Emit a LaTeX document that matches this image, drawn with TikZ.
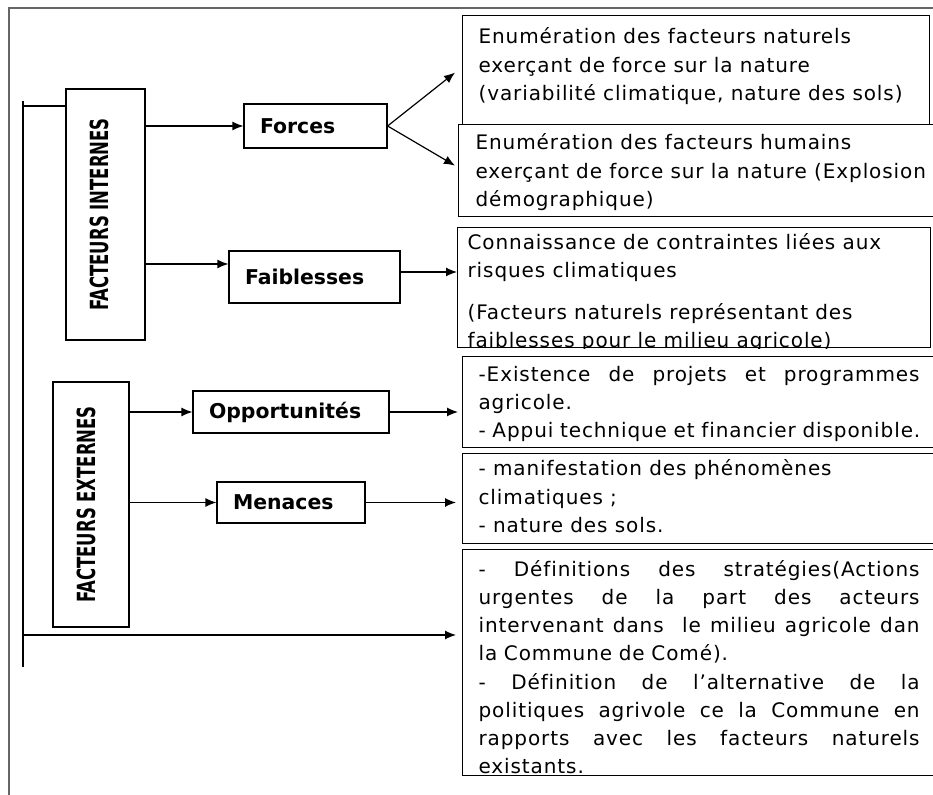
\documentclass[tikz,border=0pt]{standalone}
\usepackage{fontspec}
\usepackage{graphicx}
\setmainfont{DejaVu Sans}
\newfontfamily\bodyfont[LetterSpace=4.5,Ligatures=NoCommon]{DejaVu Sans}
\usetikzlibrary{arrows.meta}
\newcommand\jl[1]{\makebox[220.5pt][s]{\spaceskip=0.33em plus 1fil\relax #1}}
\begin{document}
\begin{tikzpicture}[x=0.5pt,y=-0.5pt,line width=0.6pt,
        >={Latex[length=5.5pt,width=4.5pt]},
        box/.style={draw,fill=white,anchor=north west,inner sep=0pt},
        desc/.style={anchor=north west,inner sep=0pt,align=left,
            font=\bodyfont\fontsize{10}{14.1}\selectfont},
        lbl/.style={draw,fill=white,inner xsep=8pt,inner ysep=0pt,align=left,
            font=\bfseries\fontsize{10.2}{12}\selectfont},
        cat/.style={draw,fill=white,inner sep=0pt},
        catlbl/.style={rotate=90,inner sep=0pt,
            font=\bfseries\fontsize{12.5}{14}\selectfont}]
    \useasboundingbox (0,0) rectangle (933,795);
    \clip (0,0) rectangle (933,795);
    \draw[black!60,line width=0.9pt] (9,8) rectangle (960,820);

    \coordinate (spineTop) at (23,101);
    \coordinate (spineEnd) at (23,667);
    \coordinate (tick) at (23,106);
    \coordinate (branch) at (23,635);
    \draw (spineTop) -- (spineEnd);

    \node[cat,minimum width=39.5pt,minimum height=125.5pt] (internes) at (105.5,214.5) {};
    \node[catlbl] (internesTxt) at ([xshift=-3pt]internes.center) {\scalebox{0.66}[1]{FACTEURS INTERNES}};
    \node[cat,minimum width=38pt,minimum height=122.5pt] (externes) at (91,504.5) {};
    \node[catlbl] (externesTxt) at ([xshift=-2.5pt]externes.center) {\scalebox{0.66}[1]{FACTEURS EXTERNES}};

    \node[lbl,text width=55.5pt,minimum height=22pt] (forces) at (315.5,126) {Forces};
    \node[lbl,text width=69.5pt,minimum height=26pt] (faibl) at (314.5,277) {Faiblesses};
    \node[lbl,text width=82pt,minimum height=21pt] (opport) at (291,412) {Opportunités};
    \node[lbl,text width=58pt,minimum height=20.5pt] (menaces) at (291,502.5) {Menaces};

    \node[box,minimum width=233.5pt,minimum height=54.5pt] (natur) at (462,15) {};
    \node[box,minimum width=245pt,minimum height=46pt] (humain) at (458,124) {};
    \node[box,minimum width=236.5pt,minimum height=60pt] (contr) at (457,227) {};
    \node[box,minimum width=245pt,minimum height=45.5pt] (projets) at (462,356) {};
    \node[box,minimum width=245pt,minimum height=45pt] (climat) at (462,453) {};
    \node[box,minimum width=245pt,minimum height=113pt] (strat) at (462,549) {};

    \node[desc] (naturTxt) at (478,23.5) {\strut Enumération des facteurs naturels\\
        exerçant de force sur la nature\\
        (variabilité climatique, nature des sols)};
    \node[desc] (humainTxt) at (475,129.5) {\strut Enumération des facteurs humains\\
        exerçant de force sur la nature (Explosion\\
        démographique)};
    \begin{scope}
        \clip (contr.south west) rectangle (contr.north east);
        \node[desc] (contrTxt) at (467,229) {\strut Connaissance de contraintes liées aux\\
            risques climatiques\\[7pt]
            (Facteurs naturels représentant des\\
            faiblesses pour le milieu agricole)};
    \end{scope}
    \node[desc,text width=220.5pt] (projetsTxt) at (478,361) {\strut\jl{-Existence de projets et programmes}\\
        agricole.\\
        - Appui technique et financier disponible.};
    \node[desc] (climatTxt) at (478,455.5) {\strut - manifestation des phénomènes\\
        climatiques ;\\
        - nature des sols.};
    \begin{scope}
        \clip (strat.south west) rectangle (strat.north east);
        \node[desc,text width=220.5pt] (stratTxt) at (478,556) {\strut\jl{- Définitions des stratégies(Actions}\\
            \jl{urgentes de la part des acteurs}\\
            \jl{intervenant dans\ \ le milieu agricole dan}\\
            la Commune de Comé).\\
            \jl{- Définition de l’alternative de la}\\
            \jl{politiques agrivole ce la Commune en}\\
            \jl{rapports avec les facteurs naturels}\\
            existants.};
    \end{scope}

    \draw (tick) -- (tick -| internes.west);
    \draw[->] (internes.east |- forces.west) -- (forces.west);
    \draw[->] (forces.east) -- ([xshift=-3.5pt,yshift=-1.25pt]natur.west);
    \draw[->] (forces.east) -- ([xshift=-1.5pt,yshift=2.5pt]humain.west);
    \coordinate (faiblIn) at ([yshift=6.5pt]faibl.west);
    \coordinate (faiblOut) at ([yshift=2.5pt]faibl.east);
    \draw[->] (faiblIn -| internes.east) -- (faiblIn);
    \draw[->] (faiblOut) -- (faiblOut -| contr.west);
    \draw[->] (externes.east |- opport.west) -- (opport.west);
    \draw[->,shorten >=2pt] (opport.east) -- (opport.east -| projets.west);
    \draw[->] (externes.east |- menaces.west) -- (menaces.west);
    \draw[->,shorten >=3pt] (menaces.east) -- (menaces.east -| climat.west);
    \draw[->,shorten >=3pt] (branch) -- (branch -| strat.west);
\end{tikzpicture}
\end{document}
